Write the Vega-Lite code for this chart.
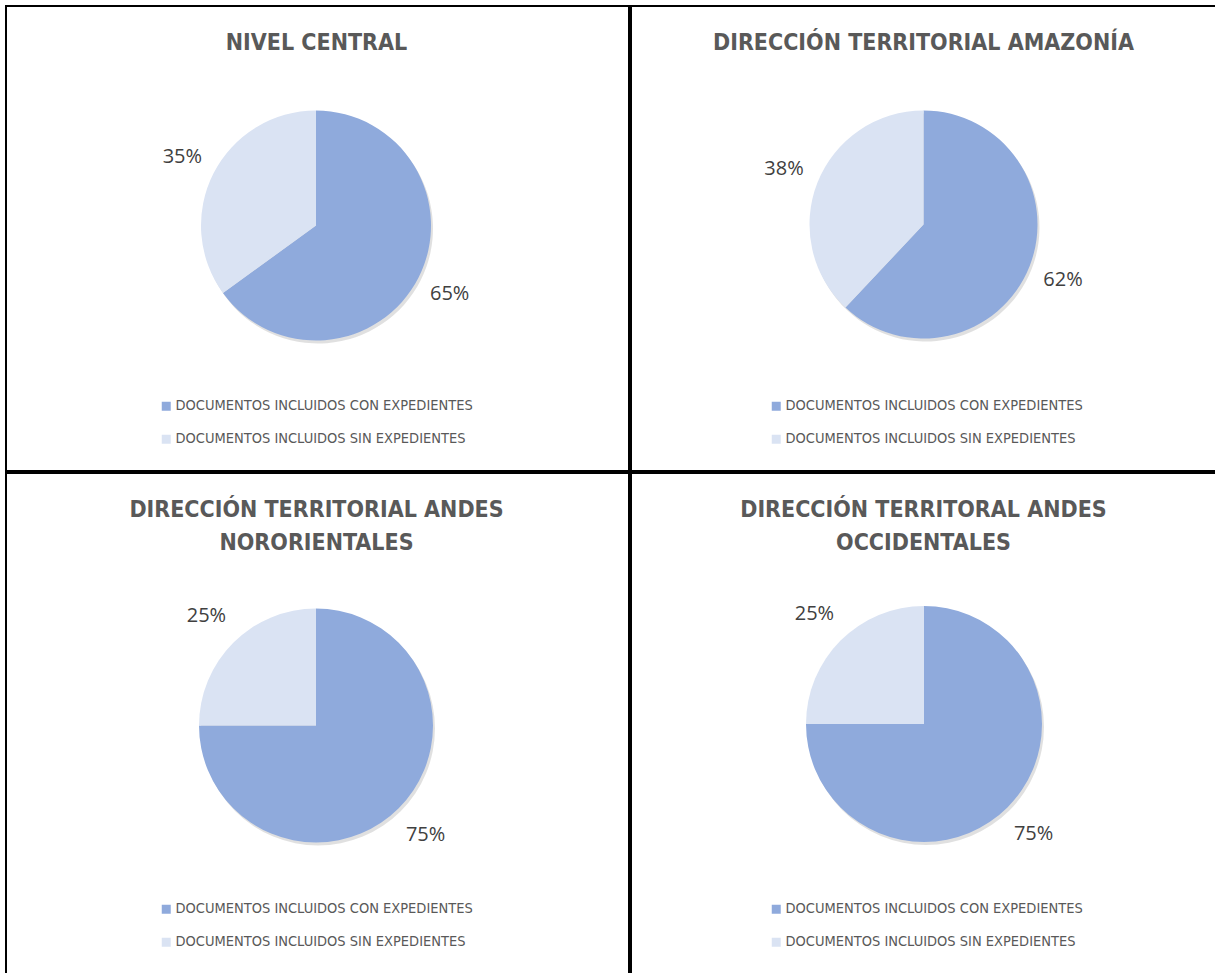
{
  "$schema": "https://vega.github.io/schema/vega-lite/v6.json",
  "padding": {"left": 5, "top": 5, "right": 0, "bottom": 0},
  "background": "white",
  "spacing": 0,
  "datasets": {
    "pies": [
      {"panel": "NIVEL CENTRAL", "categoria": "DOCUMENTOS INCLUIDOS CON EXPEDIENTES", "pct": 0.65},
      {"panel": "NIVEL CENTRAL", "categoria": "DOCUMENTOS INCLUIDOS SIN EXPEDIENTES", "pct": 0.35},
      {"panel": "AMAZONIA", "categoria": "DOCUMENTOS INCLUIDOS CON EXPEDIENTES", "pct": 0.62},
      {"panel": "AMAZONIA", "categoria": "DOCUMENTOS INCLUIDOS SIN EXPEDIENTES", "pct": 0.38},
      {"panel": "NORORIENTALES", "categoria": "DOCUMENTOS INCLUIDOS CON EXPEDIENTES", "pct": 0.75},
      {"panel": "NORORIENTALES", "categoria": "DOCUMENTOS INCLUIDOS SIN EXPEDIENTES", "pct": 0.25},
      {"panel": "OCCIDENTALES", "categoria": "DOCUMENTOS INCLUIDOS CON EXPEDIENTES", "pct": 0.75},
      {"panel": "OCCIDENTALES", "categoria": "DOCUMENTOS INCLUIDOS SIN EXPEDIENTES", "pct": 0.25}
    ]
  },
  "config": {
    "view": {"stroke": "#000000", "strokeWidth": 2, "fill": "white"},
    "concat": {"spacing": 0},
    "title": {
      "font": "Liberation Sans Narrow, DejaVu Sans Condensed, Liberation Sans",
      "fontSize": 23,
      "fontWeight": "bold",
      "color": "#595959",
      "anchor": "middle",
      "baseline": "alphabetic",
      "lineHeight": 33
    },
    "legend": {
      "orient": "none",
      "labelFont": "Liberation Sans Narrow, DejaVu Sans Condensed, Liberation Sans",
      "labelFontSize": 14.5,
      "labelColor": "#595959",
      "symbolType": "square",
      "symbolSize": 81,
      "symbolStrokeWidth": 0,
      "labelOffset": 2,
      "rowPadding": 18,
      "labelLimit": 0,
      "title": null
    }
  },
  "vconcat": [
    {
      "spacing": 0,
      "hconcat": [
        {
          "width": 623,
          "height": 465,
          "view": {"stroke": "#000000", "strokeWidth": 2},
          "title": {"text": "NIVEL CENTRAL", "offset": -49, "dx": -1},
          "data": {"name": "pies"},
          "transform": [{"filter": "datum.panel === 'NIVEL CENTRAL'"}],
          "encoding": {
            "theta": {"field": "pct", "type": "quantitative", "stack": true},
            "order": {"field": "categoria", "sort": "ascending"},
            "color": {
              "field": "categoria", "type": "nominal",
              "scale": {"range": ["#8FAADC", "#DAE3F3"]},
              "legend": {"legendX": 153, "legendY": 393}
            }
          },
          "layer": [
            {"mark": {"type": "arc", "outerRadius": 115, "xOffset": 0.5, "yOffset": -10, "opacity": 0.12},
             "encoding": {"color": {"value": "#000000"}}},
            {"mark": {"type": "arc", "outerRadius": 115, "xOffset": -1.5, "yOffset": -13}},
            {"mark": {"type": "text", "radius": 150, "xOffset": -1.5, "yOffset": -13, "font": "Open Sans", "fontSize": 20},
             "encoding": {"text": {"field": "pct", "type": "quantitative", "format": ".0%"}, "color": {"value": "#404040"}}}
          ]
        },
        {
          "width": 592,
          "height": 465,
          "view": {"stroke": "#000000", "strokeWidth": 2},
          "title": {"text": "DIRECCIÓN TERRITORIAL AMAZONÍA", "offset": -49, "dx": -3.5},
          "data": {"name": "pies"},
          "transform": [{"filter": "datum.panel === 'AMAZONIA'"}],
          "encoding": {
            "theta": {"field": "pct", "type": "quantitative", "stack": true},
            "order": {"field": "categoria", "sort": "ascending"},
            "color": {
              "field": "categoria", "type": "nominal",
              "scale": {"range": ["#8FAADC", "#DAE3F3"]},
              "legend": {"legendX": 138, "legendY": 393}
            }
          },
          "layer": [
            {"mark": {"type": "arc", "outerRadius": 114, "xOffset": -1.5, "yOffset": -11, "opacity": 0.12},
             "encoding": {"color": {"value": "#000000"}}},
            {"mark": {"type": "arc", "outerRadius": 114, "xOffset": -3.5, "yOffset": -14}},
            {"mark": {"type": "text", "radius": 150, "xOffset": -3.5, "yOffset": -14, "font": "Open Sans", "fontSize": 20},
             "encoding": {"text": {"field": "pct", "type": "quantitative", "format": ".0%"}, "color": {"value": "#404040"}}}
          ]
        }
      ],
      "resolve": {"legend": {"color": "independent"}, "scale": {"color": "independent", "theta": "independent"}}
    },
    {
      "spacing": 0,
      "hconcat": [
        {
          "width": 623,
          "height": 508,
          "view": {"stroke": "#000000", "strokeWidth": 2},
          "title": {"text": ["DIRECCIÓN TERRITORIAL ANDES", "NORORIENTALES"], "offset": -82, "dx": -1},
          "data": {"name": "pies"},
          "transform": [{"filter": "datum.panel === 'NORORIENTALES'"}],
          "encoding": {
            "theta": {"field": "pct", "type": "quantitative", "stack": true},
            "order": {"field": "categoria", "sort": "ascending"},
            "color": {
              "field": "categoria", "type": "nominal",
              "scale": {"range": ["#8FAADC", "#DAE3F3"]},
              "legend": {"legendX": 153, "legendY": 429}
            }
          },
          "layer": [
            {"mark": {"type": "arc", "outerRadius": 117, "xOffset": 0.5, "yOffset": 1.5, "opacity": 0.12},
             "encoding": {"color": {"value": "#000000"}}},
            {"mark": {"type": "arc", "outerRadius": 117, "xOffset": -1.5, "yOffset": -1.5}},
            {"mark": {"type": "text", "radius": 155, "xOffset": -1.5, "yOffset": -1.5, "font": "Open Sans", "fontSize": 20},
             "encoding": {"text": {"field": "pct", "type": "quantitative", "format": ".0%"}, "color": {"value": "#404040"}}}
          ]
        },
        {
          "width": 592,
          "height": 508,
          "view": {"stroke": "#000000", "strokeWidth": 2},
          "title": {"text": ["DIRECCIÓN TERRITORAL ANDES", "OCCIDENTALES"], "offset": -82, "dx": -3.5},
          "data": {"name": "pies"},
          "transform": [{"filter": "datum.panel === 'OCCIDENTALES'"}],
          "encoding": {
            "theta": {"field": "pct", "type": "quantitative", "stack": true},
            "order": {"field": "categoria", "sort": "ascending"},
            "color": {
              "field": "categoria", "type": "nominal",
              "scale": {"range": ["#8FAADC", "#DAE3F3"]},
              "legend": {"legendX": 138, "legendY": 429}
            }
          },
          "layer": [
            {"mark": {"type": "arc", "outerRadius": 118, "xOffset": -1, "yOffset": 0, "opacity": 0.12},
             "encoding": {"color": {"value": "#000000"}}},
            {"mark": {"type": "arc", "outerRadius": 118, "xOffset": -3, "yOffset": -3}},
            {"mark": {"type": "text", "radius": 155, "xOffset": -3, "yOffset": -3, "font": "Open Sans", "fontSize": 20},
             "encoding": {"text": {"field": "pct", "type": "quantitative", "format": ".0%"}, "color": {"value": "#404040"}}}
          ]
        }
      ],
      "resolve": {"legend": {"color": "independent"}, "scale": {"color": "independent", "theta": "independent"}}
    }
  ],
  "resolve": {"legend": {"color": "independent"}, "scale": {"color": "independent", "theta": "independent"}}
}
